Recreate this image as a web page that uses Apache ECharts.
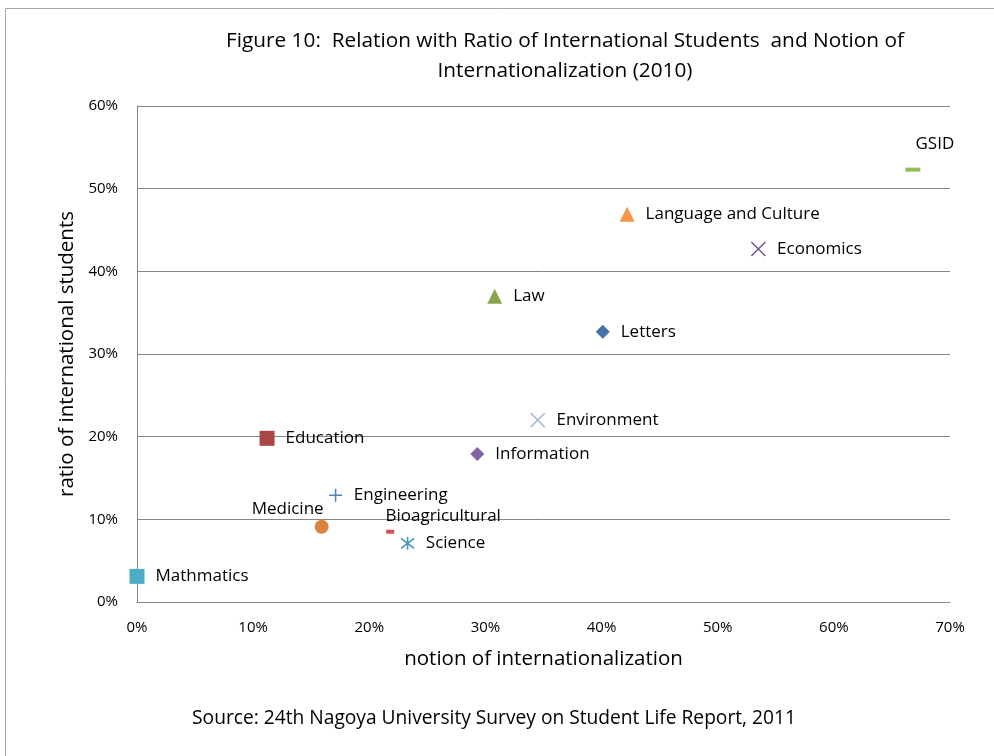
<!DOCTYPE html>
<html>
<head>
<meta charset="utf-8">
<script src="https://cdn.jsdelivr.net/npm/echarts@6/dist/echarts.min.js"></script>
<style>
html,body{margin:0;padding:0;background:#fff;}
#chart{width:994px;height:756px;}
</style>
</head>
<body>
<div id="chart"></div>
<script>
// Data (percent values)
const faculties = ['Letters','Education','Law','Economics','Science','Medicine','Engineering','Bioagricultural','GSID','Information','Mathmatics','Language and Culture','Environment'];
const notionValues = [40.1, 11.2, 30.8, 53.5, 23.3, 15.9, 17.1, 21.8, 66.8, 29.3, 0.0, 42.2, 34.5];
const ratioValues  = [32.7, 19.8, 37.0, 42.7, 7.1, 9.1, 12.9, 8.5, 52.3, 17.9, 3.1, 46.9, 22.0];
const xTicks = [0, 10, 20, 30, 40, 50, 60, 70];
const yTicks = [0, 10, 20, 30, 40, 50, 60];

const FONT = 'Open Sans';
const styles = {
  'Letters':            {symbol:'diamond', size:14, color:'#4472A8', fill:true},
  'Education':          {symbol:'rect', size:15, color:'#AA4643', fill:true},
  'Law':                {symbol:'triangle', size:15, color:'#89A54E', fill:true},
  'Economics':          {symbol:'path://M0,0L10,10M10,0L0,10', size:14, color:'#71588F', fill:false},
  'Science':            {symbol:'path://M0,0L10,10M10,0L0,10M5,-1.5L5,11.5', size:[13,13], color:'#4198AF', fill:false},
  'Medicine':           {symbol:'circle', size:14, color:'#DB843D', fill:true},
  'Engineering':        {symbol:'path://M5,0L5,10M0,5L10,5', size:13, color:'#4F81BD', fill:false},
  'Bioagricultural':    {symbol:'rect', size:[8,4], color:'#D0514E', fill:true},
  'GSID':               {symbol:'rect', size:[15,4], color:'#9BBB59', fill:true},
  'Information':        {symbol:'diamond', size:14, color:'#8064A2', fill:true},
  'Mathmatics':         {symbol:'rect', size:15, color:'#4BACC6', fill:true},
  'Language and Culture':{symbol:'triangle', size:15, color:'#F79646', fill:true},
  'Environment':        {symbol:'path://M0,0L10,10M10,0L0,10', size:14, color:'#A9BAE0', fill:false}
};
const labelPos = {
  'GSID': {position:'top', distance:15, offset:[22,0]},
  'Medicine': {position:'top', distance:2, offset:[-34,0]},
  'Bioagricultural': {position:'top', distance:5, offset:[53,0]}
};

const series = faculties.map((name, i) => {
  const s = styles[name];
  const lp = labelPos[name] || {position:'right', distance:11, offset:[0,0]};
  return {
    name: name,
    type: 'scatter',
    symbol: s.symbol,
    symbolSize: s.size,
    data: [[notionValues[i], ratioValues[i]]],
    itemStyle: s.fill ? {color: s.color, opacity:1} : {color:'rgba(0,0,0,0)', borderColor: s.color, borderWidth: 1.5, opacity:1},
    label: {
      show: true,
      formatter: name,
      position: lp.position,
      distance: lp.distance,
      offset: lp.offset,
      color: '#000',
      fontFamily: FONT,
      fontSize: 17
    },
    emphasis: {disabled: true},
    animation: false
  };
});

const chart = echarts.init(document.getElementById('chart'), null, {renderer:'canvas'});
chart.setOption({
  backgroundColor: '#fff',
  animation: false,
  grid: {left:137, top:106, width:813, height:496, containLabel:false},
  xAxis: {
    type:'value', min:xTicks[0], max:xTicks[xTicks.length-1], interval:10,
    name:'notion of internationalization', nameLocation:'middle', nameGap:47,
    nameTextStyle:{fontFamily:FONT, fontSize:20.5, color:'#000'},
    axisLine:{show:true, lineStyle:{color:'#868686', width:1}},
    axisTick:{show:false},
    splitLine:{show:false},
    axisLabel:{formatter: v => v + '%', fontFamily:FONT, fontSize:15, color:'#000', margin:18}
  },
  yAxis: {
    type:'value', min:yTicks[0], max:yTicks[yTicks.length-1], interval:10,
    name:'ratio of international students', nameLocation:'middle', nameGap:58,
    nameTextStyle:{fontFamily:FONT, fontSize:20.5, color:'#000'},
    axisLine:{show:true, lineStyle:{color:'#868686', width:1}},
    axisTick:{show:false},
    splitLine:{show:true, lineStyle:{color:'#868686', width:1}},
    axisLabel:{formatter: v => v + '%', fontFamily:FONT, fontSize:15, color:'#000', margin:19}
  },
  graphic: [
    {type:'rect', shape:{x:5.5, y:8.5, width:1100, height:900}, style:{fill:'none', stroke:'#A6A6A6', lineWidth:1}, silent:true},
    {type:'text', x:565, y:41, style:{text:'Figure 10:  Relation with Ratio of International Students  and Notion of', textAlign:'center', textVerticalAlign:'middle', fontFamily:FONT, fontSize:20.8, fill:'#000'}},
    {type:'text', x:565, y:71, style:{text:'Internationalization (2010)', textAlign:'center', textVerticalAlign:'middle', fontFamily:FONT, fontSize:20.8, fill:'#000'}},
    {type:'text', x:494, y:719, style:{text:'Source: 24th Nagoya University Survey on Student Life Report, 2011', textAlign:'center', textVerticalAlign:'middle', fontFamily:FONT, fontSize:19.2, fill:'#000'}}
  ],
  series: series
});
</script>
</body>
</html>
